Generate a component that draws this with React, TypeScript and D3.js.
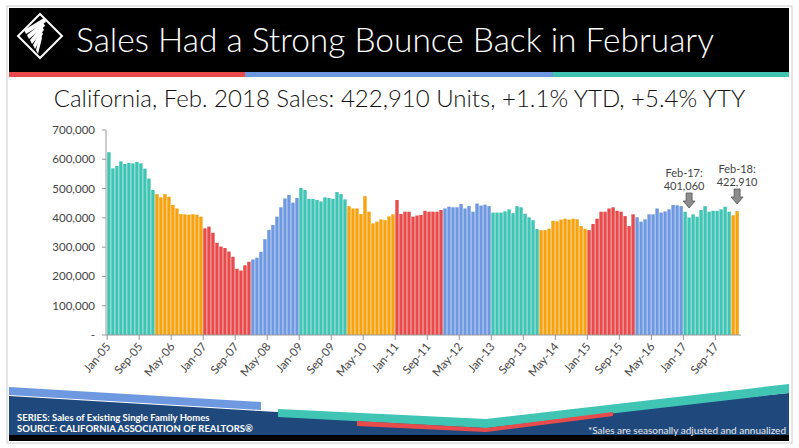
import React, { useEffect } from 'react';
import * as d3 from 'd3';

// monthly sales, thousands of units (seasonally adjusted, annualized)
const years = [2005, 2006, 2007, 2008, 2009, 2010, 2011, 2012, 2013, 2014, 2015, 2016, 2017, 2018];
const sales2005 = [624, 569, 577, 593, 584, 588, 586, 591, 586, 568, 534, 495];
const sales2006 = [481, 470, 481, 472, 444, 432, 413, 412, 411, 412, 411, 404];
const sales2007 = [364, 370, 349, 315, 302, 297, 285, 267, 226, 220, 238, 250];
const sales2008 = [258, 264, 284, 327, 359, 376, 404, 436, 466, 478, 452, 468];
const sales2009 = [502, 495, 465, 465, 461, 456, 470, 468, 465, 488, 481, 463];
const sales2010 = [440, 432, 432, 413, 474, 421, 381, 387, 395, 392, 405, 412];
const sales2011 = [461, 413, 421, 421, 404, 408, 410, 424, 421, 421, 421, 427];
const sales2012 = [432, 438, 436, 436, 447, 432, 440, 421, 449, 442, 445, 440];
const sales2013 = [418, 418, 418, 422, 429, 416, 440, 436, 414, 402, 392, 362];
const sales2014 = [358, 358, 363, 390, 388, 394, 397, 394, 397, 395, 372, 363];
const sales2015 = [358, 379, 397, 421, 421, 432, 436, 424, 421, 406, 372, 412];
const sales2016 = [402, 387, 395, 412, 412, 432, 418, 422, 429, 444, 443, 440];
const sales2017 = [421, 401.06, 412, 404, 427, 440, 421, 424, 424, 429, 438, 421];
const sales2018 = [409, 422.91];
const salesByYear = [sales2005, sales2006, sales2007, sales2008, sales2009, sales2010, sales2011,
  sales2012, sales2013, sales2014, sales2015, sales2016, sales2017, sales2018];
const monthNames = ['Jan', 'Feb', 'Mar', 'Apr', 'May', 'Jun', 'Jul', 'Aug', 'Sep', 'Oct', 'Nov', 'Dec'];
const yearColors = ['#40c5b5', '#f6a312', '#e84b4b', '#6e98e0'];
const yTicks = [0, 100000, 200000, 300000, 400000, 500000, 600000, 700000];

const bars = salesByYear.flatMap((vals, yi) =>
  vals.map((v, mi) => ({
    label: `${monthNames[mi]}-${String(years[yi]).slice(2)}`,
    value: v * 1000,
    color: yearColors[yi % 4],
  })));

const W = 799, H = 448;
const margin = { left: 107, right: 60, top: 130, bottom: 113 };
const font = 'Lato, "Open Sans", sans-serif';

export default function App() {
  useEffect(() => { document.body.style.margin = '0'; }, []);

  const x = d3.scaleBand<string>().domain(bars.map(b => b.label))
    .range([margin.left, 739]).paddingInner(0.15).paddingOuter(0.05);
  const y = d3.scaleLinear().domain([0, 700000]).range([H - margin.bottom, margin.top]);
  const fmt = d3.format(',');
  const xTicks = bars.filter((_, i) => i % 8 === 0).map(b => b.label);
  const cx = (l: string) => x(l)! + x.bandwidth() / 2;

  const arrow = (l: string, top: number) => {
    const ax = cx(l);
    return <path d={`M${ax - 3},${top} h6 v8 h3 l-6,7 l-6,-7 h3 z`} fill="#8c8c8c" stroke="#555" strokeWidth={0.8} />;
  };

  return (
    <svg width={W} height={H} style={{ display: 'block', fontFamily: font }}>
      <rect x={0} y={0} width={W} height={H} fill="#fff" />
      <rect x={7} y={6} width={785} height={437} fill="none" stroke="#ccc" />
      {/* header */}
      <rect x={9} y={8} width={780} height={64} fill="#000" />
      <rect x={9} y={72} width={236} height={5} fill="#e84b4b" />
      <rect x={245} y={72} width={308} height={5} fill="#6e98e0" />
      <rect x={553} y={72} width={236} height={5} fill="#40c5b5" />
      <g fill="#fff">
        <path d="M40,14 L62,36 L40,58 L18,36 Z" fill="none" stroke="#fff" strokeWidth={2} />
        {[0, 1, 2, 3, 4].map(i => (
          <path key={i} d={`M${24 + i * 3},${30 + i * 5} L${44 - i},${18 + i * 4} L${46 - i},${22 + i * 4} L${26 + i * 3},${34 + i * 5} Z`} />
        ))}
      </g>
      <text x={76} y={52} fill="#fff" fontSize={33} fontWeight={300} textLength={638} lengthAdjust="spacingAndGlyphs">Sales Had a Strong Bounce Back in February</text>
      <text x={W / 2} y={107} textAnchor="middle" fontSize={24} fontWeight={300} fill="#111">
        California, Feb. 2018 Sales: 422,910 Units, +1.1% YTD, +5.4% YTY
      </text>

      {/* y axis */}
      <line x1={margin.left - 1} x2={margin.left - 1} y1={margin.top} y2={y(0)} stroke="#999" />
      {yTicks.map(t => (
        <g key={t}>
          <line x1={margin.left - 5} x2={margin.left - 1} y1={y(t)} y2={y(t)} stroke="#999" />
          <text x={margin.left - 12} y={y(t) + 4} textAnchor="end" fontSize={11.5} fill="#444">
            {t === 0 ? '-' : fmt(t)}
          </text>
        </g>
      ))}

      {/* bars */}
      {bars.map(b => (
        <rect key={b.label} x={x(b.label)} y={y(b.value)} width={x.bandwidth()}
          height={y(0) - y(b.value)} fill={b.color} />
      ))}

      {/* x axis */}
      <line x1={margin.left - 1} x2={741} y1={y(0)} y2={y(0)} stroke="#999" />
      {xTicks.map(l => (
        <g key={l}>
          <line x1={x(l)} x2={x(l)} y1={y(0)} y2={y(0) + 5} stroke="#999" />
          <text transform={`translate(${x(l)! + 4},${y(0) + 12}) rotate(-50)`} textAnchor="end"
            fontSize={11.5} fill="#444">{l}</text>
        </g>
      ))}

      {/* annotations */}
      <text x={cx('Feb-17') - 5} y={177} textAnchor="middle" fontSize={11} fill="#444">Feb-17:</text>
      <text x={cx('Feb-17') - 5} y={190} textAnchor="middle" fontSize={11} fill="#444">401,060</text>
      {arrow('Feb-17', 193)}
      <text x={cx('Feb-18')} y={173} textAnchor="middle" fontSize={11} fill="#444">Feb-18:</text>
      <text x={cx('Feb-18')} y={186} textAnchor="middle" fontSize={11} fill="#444">422,910</text>
      {arrow('Feb-18', 189)}

      {/* footer */}
      <path d="M9,396 L260,411 L486,424 L789,393 L789,440 L9,440 Z" fill="#1f497d" />
      <rect x={9} y={435} width={780} height={6} fill="#000" />
      <path d="M9,387 L261,402 L261,410 L9,395 Z" fill="#6e98e0" />
      <path d="M278,409 L486,419 L789,384 L789,393 L486,428 L278,417 Z" fill="#40c5b5" />
      <path d="M357,421 L486,428 L613,412 L613,416 L486,432 L357,426 Z" fill="#e84b4b" />
      <text x={17} y={421} fill="#fff" fontSize={9.5} fontWeight={700}>SERIES: Sales of Existing Single Family Homes</text>
      <text x={17} y={432} fill="#fff" fontSize={9.5} fontWeight={700}>SOURCE:  CALIFORNIA ASSOCIATION OF REALTORS®</text>
      <text x={786} y={434} textAnchor="end" fill="#e8e8e8" fontSize={10}>*Sales are seasonally adjusted and annualized</text>
    </svg>
  );
}
